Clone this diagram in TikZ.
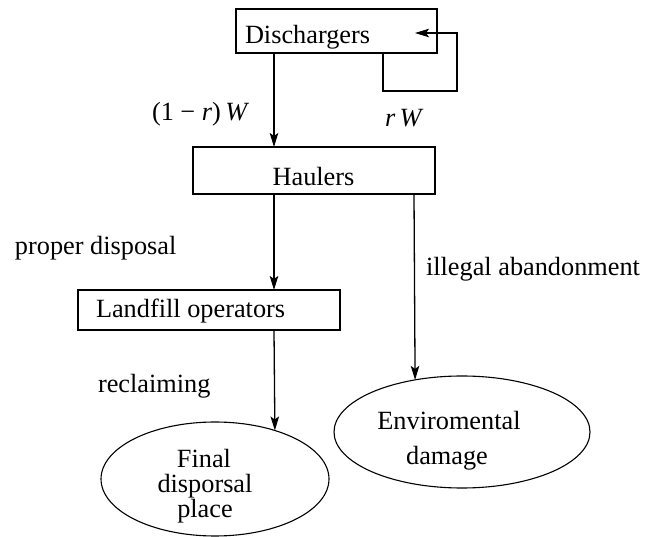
\documentclass[tikz,border=0pt]{standalone}
\usepackage{fontspec}
\setmainfont{Liberation Serif}
\usetikzlibrary{arrows.meta,shapes.geometric}
\begin{document}
\begin{tikzpicture}[x=1pt,y=-1pt,
  box/.style={draw, line width=1.4pt, rectangle, inner sep=0pt, outer sep=0pt},
  ell/.style={draw, line width=1.1pt, ellipse, inner sep=0pt, outer sep=0pt},
  txt/.style={inner sep=0pt, outer sep=0pt, font=\fontsize{26.3}{30}\selectfont, anchor=base west},
  ctxt/.style={txt, anchor=base},
  arr/.style={line width=1.3pt, -{Stealth[length=14pt,width=8.5pt,inset=3pt]}}]
\useasboundingbox (0,0) rectangle (646,537);
% boxes
\node[box, minimum width=201pt, minimum height=44pt] (dis) at (336.5,31) {};
\node[txt] (distxt) at (245,44) {Dischargers};
\node[box, minimum width=242pt, minimum height=47pt] (hau) at (314,170.5) {};
\node[ctxt] (hautxt) at (313.5,186) {Haulers};
\node[box, minimum width=262pt, minimum height=40pt] (lan) at (209,310) {};
\node[txt] (lantxt) at (96,318) {Landfill operators};
% ellipses
\node[ell, minimum width=228pt, minimum height=114pt] (fin) at (215,479) {};
\node[ctxt] (fin1) at (204,468) {Final};
\node[ctxt] (fin2) at (205,493) {disporsal};
\node[ctxt] (fin3) at (205,518) {place};
\node[ell, minimum width=256pt, minimum height=112pt] (env) at (462,432) {};
\node[ctxt] (env1) at (449,430) {Enviromental};
\node[ctxt] (env2) at (447,465) {damage};
% labels
\node[txt] (lab1) at (152,121) {(1 − \textit{r})\,\textit{W}};
\node[txt] (lab2) at (385,127) {\textit{r}\,\textit{W}};
\node[txt] (lab3) at (15,255) {proper disposal};
\node[txt] (lab4) at (426,276) {illegal abandonment};
\node[txt] (lab5) at (98,393) {reclaiming};
% helper coordinates
\coordinate (xa) at (274,0);
\coordinate (xb) at (414,0);
\coordinate (xl) at (383,0);
\coordinate (xr) at (457,91);
\coordinate (tip) at (415,33);
% connectors
\draw[arr] (dis.south -| xa) -- (hau.north -| xa);
\draw[arr] (hau.south -| xa) -- (lan.north -| xa);
\draw[arr] (lan.south -| xa) -- (fin.39.7);
\draw[arr] (hau.south -| xb) -- (env.132.7);
\draw[arr] (dis.south -| xl) |- (xr) |- (tip);
\end{tikzpicture}
\end{document}
